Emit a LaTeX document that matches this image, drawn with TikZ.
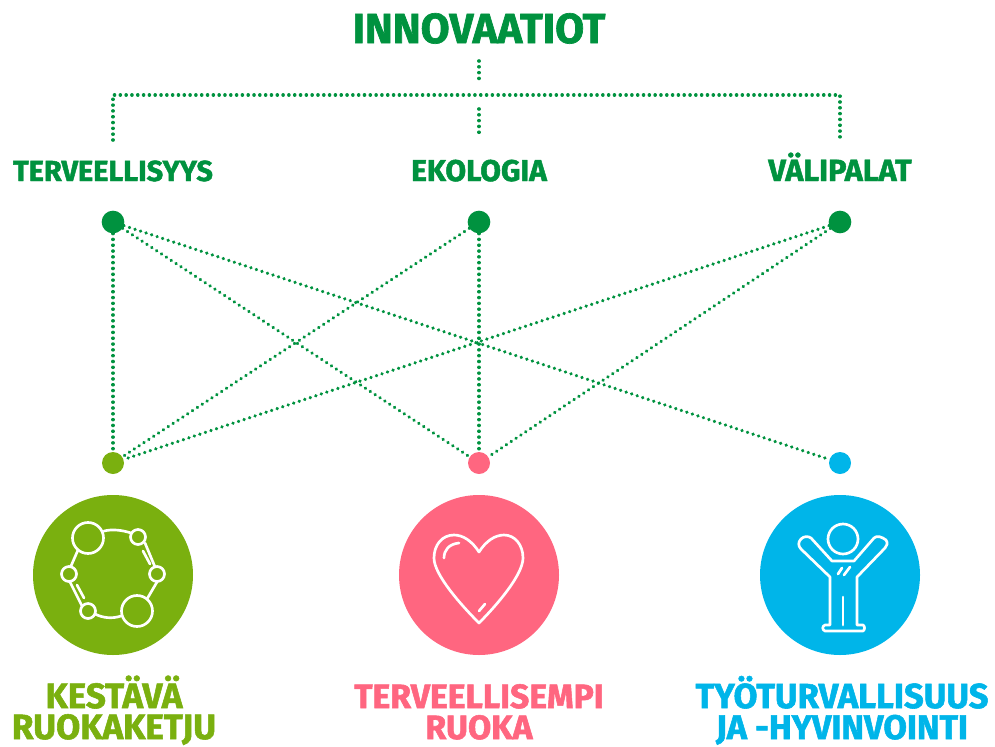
\documentclass[tikz,border=0pt]{standalone}
\usepackage{fontspec}
\setmainfont[BoldFeatures={FakeBold=1.6}]{Fira Sans}
\definecolor{dg}{HTML}{00923F}
\definecolor{lime}{HTML}{7AB00F}
\definecolor{rose}{HTML}{FF6680}
\definecolor{sky}{HTML}{00B5E9}
\tikzset{
 x=0.75pt,y=-0.75pt,
 dotline/.style={draw=dg,line width=2.7pt,line cap=round,dash pattern=on 0.01pt off 4.35pt},
 hub/.style={circle,inner sep=0pt,minimum size=16.5pt},
 disc/.style={circle,inner sep=0pt,minimum size=120pt},
 lab/.style={font=\bfseries\fontsize{#1}{#1}\selectfont,inner sep=0pt,anchor=base},
 ico/.style={draw=white,line width=2pt,line join=round,line cap=round},
}
\begin{document}
\begin{tikzpicture}
\useasboundingbox (0,0) rectangle (995,746);
\node[lab=31.5,text=dg] (top) at (479,43) {INNOVAATIOT};
\coordinate (a1) at (479,61);
\coordinate (a2) at (479,80);
\coordinate (b1) at (479,109);
\coordinate (b2) at (479,136);
\coordinate (hl) at (113,95);
\coordinate (hr) at (840,95);
\coordinate (ll) at (113,140);
\coordinate (lr) at (840,140);
\draw[dotline] (a1)--(a2);
\draw[dotline] (b1)--(b2);
\draw[dotline] (ll)--(hl)--(hr)--(lr);
\node[lab=21.7,text=dg] (t1) at (113,181) {TERVEELLISYYS};
\node[lab=22.5,text=dg] (t2) at (479,181) {EKOLOGIA};
\node[lab=23,text=dg] (t3) at (840,181) {VÄLIPALAT};
\node[hub,minimum size=17pt,fill=dg] (u1) at (113,222) {};
\node[hub,minimum size=17pt,fill=dg] (u2) at (479,222) {};
\node[hub,minimum size=17pt,fill=dg] (u3) at (840,222) {};
\node[hub,fill=lime] (d1) at (113,463) {};
\node[hub,fill=rose] (d2) at (479,463) {};
\node[hub,fill=sky] (d3) at (840,463) {};
\foreach \p/\q in {u1/d1,u1/d2,u1/d3,u2/d1,u2/d2,u3/d1,u3/d2}{
 \draw[dotline] (\p)--(\q);
}
\node[disc,fill=lime] (c1) at (113,575) {};
\node[disc,fill=rose] (c2) at (479,575) {};
\node[disc,fill=sky] (c3) at (840,575) {};
% ring icon
\draw[ico] (88,538) circle (15.5);
\draw[ico] (137,611) circle (15.5);
\draw[ico] (138,537) circle (7.5);
\draw[ico] (157,574) circle (7.5);
\draw[ico] (88,611) circle (7.5);
\draw[ico] (69,574) circle (7.5);
\draw[ico] (104,531) .. controls (112,529) and (122,530) .. (131,533);
\draw[ico] (145,543) -- (155,567);
\draw[ico] (157,582) -- (147,599);
\draw[ico] (121,616) .. controls (112,619) and (103,618) .. (95,614);
\draw[ico] (82,606) -- (70,582);
\draw[ico] (71,566) -- (78,550);
\draw[ico] (143,551) -- (150,564);
\draw[ico] (77,585) -- (84,598);
% heart icon
\draw[ico] (479,552) .. controls (472,541) and (463,535) .. (454,535)
 .. controls (442,535) and (434,545) .. (434,558)
 .. controls (434,575) and (462,606) .. (479,623)
 .. controls (496,606) and (523,575) .. (523,558)
 .. controls (523,545) and (515,535) .. (504,535)
 .. controls (495,535) and (486,541) .. (479,552) -- cycle;
\draw[ico] (444,558) .. controls (444,550) and (449,544) .. (459,543);
\draw[ico] (479,611) -- (485,604);
% person icon
\draw[ico] (843,539) circle (15);
\draw[ico] (832,561) -- (854,561) -- (874,538) .. controls (877,535) and (882,537) .. (886,540)
 .. controls (888,543) and (887,546) .. (885,548) -- (857,577) -- (857,625) -- (863,625)
 .. controls (865,626) and (865,630) .. (863,631) -- (825,631)
 .. controls (822,630) and (822,626) .. (825,625) -- (830,625) -- (830,577)
 -- (801,549) .. controls (798,546) and (798,542) .. (801,539)
 .. controls (804,536) and (808,536) .. (811,538) -- cycle;
\draw[ico] (843,597) -- (843,625);
\draw[ico] (838,574) -- (842,568);
\draw[ico] (844,575) -- (850,567);
\node[lab=26.3,text=lime] (k1) at (114,708) {KESTÄVÄ};
\node[lab=26.3,text=lime] (k2) at (114,739) {RUOKAKETJU};
\node[lab=25.3,text=rose] (r1) at (479,708) {TERVEELLISEMPI};
\node[lab=25.3,text=rose] (r2) at (479,739) {RUOKA};
\node[lab=26,text=sky] (s1) at (842,708) {TYÖTURVALLISUUS};
\node[lab=25.6,text=sky] (s2) at (842,739) {JA -HYVINVOINTI};
\end{tikzpicture}
\end{document}
